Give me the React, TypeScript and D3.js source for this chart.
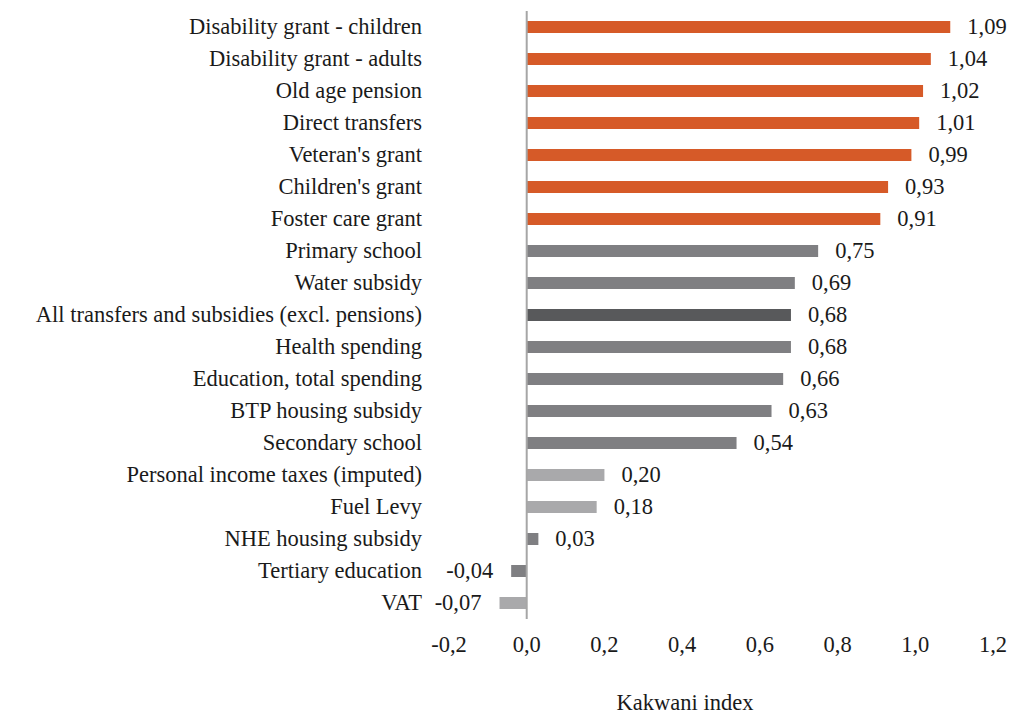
import React from "react";
import * as d3 from "d3";

const categories = [
  "Disability grant - children",
  "Disability grant - adults",
  "Old age pension",
  "Direct transfers",
  "Veteran's grant",
  "Children's grant",
  "Foster care grant",
  "Primary school",
  "Water subsidy",
  "All transfers and subsidies (excl. pensions)",
  "Health spending",
  "Education, total spending",
  "BTP housing subsidy",
  "Secondary school",
  "Personal income taxes (imputed)",
  "Fuel Levy",
  "NHE housing subsidy",
  "Tertiary education",
  "VAT",
];

const values = [1.09, 1.04, 1.02, 1.01, 0.99, 0.93, 0.91, 0.75, 0.69, 0.68, 0.68, 0.66, 0.63, 0.54, 0.2, 0.18, 0.03, -0.04, -0.07];

const groups = [
  "transfer", "transfer", "transfer", "transfer", "transfer", "transfer", "transfer",
  "spending", "spending", "aggregate", "spending", "spending", "spending", "spending",
  "tax", "tax", "spending", "spending", "tax",
];

const xTicks = [-0.2, 0, 0.2, 0.4, 0.6, 0.8, 1.0, 1.2];

const groupColors: Record<string, string> = {
  transfer: "#d65a28",
  spending: "#7f7f82",
  aggregate: "#58595b",
  tax: "#a9a9ab",
};

const fmt = (v: number, d: number) => v.toFixed(d).replace(".", ",");

export default function App() {
  const W = 1013;
  const H = 715;
  const x = d3.scaleLinear().domain([-0.2, 1.2]).range([449, 993]);
  const y = d3
    .scaleBand<string>()
    .domain(categories)
    .range([11, 619])
    .paddingInner(0.625)
    .paddingOuter(0.3125);
  const font = "'Liberation Serif', 'Times New Roman', serif";
  const fs = 22.5;
  const x0 = x(0);

  return (
    <svg
      width={W}
      height={H}
      style={{ position: "absolute", left: 0, top: 0, background: "#fff" }}
      fontFamily={font}
    >
      {categories.map((c, i) => {
        const v = values[i];
        const yy = y(c)!;
        const bw = y.bandwidth();
        const xs = Math.min(x(v), x0);
        const w = Math.abs(x(v) - x0);
        const cy = yy + bw / 2;
        return (
          <g key={c}>
            <rect x={xs} y={yy} width={w} height={bw} fill={groupColors[groups[i]]} />
            <text x={422} y={cy} dy="0.33em" textAnchor="end" fontSize={fs} fill="#1a1a1a">
              {c}
            </text>
            <text
              x={v >= 0 ? x(v) + 17 : x(v) - 18}
              y={cy}
              dy="0.33em"
              textAnchor={v >= 0 ? "start" : "end"}
              fontSize={fs}
              fill="#1a1a1a"
            >
              {fmt(v, 2)}
            </text>
          </g>
        );
      })}
      <line x1={x0} x2={x0} y1={11} y2={619} stroke="#a6a6a6" strokeWidth={2} />
      {xTicks.map((t) => (
        <text key={t} x={x(t)} y={645} dy="0.33em" textAnchor="middle" fontSize={fs} fill="#1a1a1a">
          {fmt(t, 1)}
        </text>
      ))}
      <text x={685} y={703} dy="0.33em" textAnchor="middle" fontSize={fs} fill="#1a1a1a">
        Kakwani index
      </text>
    </svg>
  );
}
